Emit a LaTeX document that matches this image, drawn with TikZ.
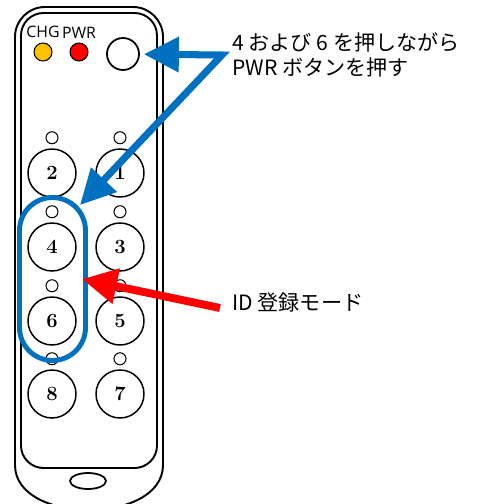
\documentclass[tikz,border=0pt]{standalone}
\usepackage{fontspec}
\newfontfamily\jpfont{Noto Sans CJK JP}
\newfontfamily\ledfont{Open Sans}
\usepackage{tikz}
\usetikzlibrary{positioning,arrows.meta}
\definecolor{markblue}{RGB}{0,112,192}
\definecolor{ledamber}{RGB}{255,192,0}

\begin{document}
\begin{tikzpicture}[x=0.02cm,y=-0.02cm,
		key/.style={circle,draw,line width=0.85pt,minimum size=0.96cm,inner sep=0pt,font=\bfseries\fontsize{11.5}{13}\selectfont},
		lamp/.style={circle,draw,line width=0.6pt,minimum size=0.24cm,inner sep=0pt},
		led/.style={circle,draw,line width=0.6pt,minimum size=0.36cm,inner sep=0pt},
		ledlabel/.style={inner sep=0pt,font=\ledfont\fontsize{9}{10}\selectfont},
		note/.style={anchor=west,align=left,inner sep=0pt,font=\jpfont\fontsize{12}{14.2}\selectfont},
		pointer/.style={line width=4pt,-{Triangle[length=0.7cm,width=0.68cm]}}]
		\clip (0,0) rectangle (480,504);

		% Remote body
		\draw[line width=1.1pt,rounded corners=0.6cm] (15,466) -- (15,7) -- (163,7) -- (163,466);
		\draw[line width=1.1pt] (163,465) .. controls (163,525) and (15,525) .. (15,465);
		\draw[line width=1.1pt,rounded corners=0.45cm] (21,13) rectangle (157,468);
		\draw[line width=1pt] (88,481) ellipse [x radius=18, y radius=8];

		% Status LEDs and PWR button
		\node[led,fill=ledamber] (chg) at (43,52) {};
		\node[led,fill=red] (pwrled) at (79,52) {};
		\node[ledlabel,above=0.08cm of chg] (chg-label) {CHG};
		\node[ledlabel,above=0.08cm of pwrled] (pwr-label) {PWR};
		\node[circle,draw,line width=1pt,minimum size=0.64cm] (pwr) at (123,54) {};

		% Keys
		\node[key] (k2) at (52,173) {2};
		\node[key] (k1) at (120,173) {1};
		\node[key] (k4) at (52,247) {4};
		\node[key] (k3) at (120,247) {3};
		\node[key] (k6) at (52,321) {6};
		\node[key] (k5) at (120,321) {5};
		\node[key] (k8) at (52,394) {8};
		\node[key] (k7) at (120,394) {7};
		\node[lamp,above=0.08cm of k2] (l2) {};
		\node[lamp,above=0.08cm of k1] (l1) {};
		\node[lamp,above=0.08cm of k4] (l4) {};
		\node[lamp,above=0.08cm of k3] (l3) {};
		\node[lamp,above=0.08cm of k6] (l6) {};
		\node[lamp,above=0.08cm of k5] (l5) {};
		\node[lamp,above=0.08cm of k8] (l8) {};
		\node[lamp,above=0.08cm of k7] (l7) {};

		% Keys 4 and 6 marked
		\node[draw=markblue,line width=2.8pt,rounded corners=0.66cm,minimum width=1.32cm,minimum height=3.26cm,inner sep=0pt] (hold) at (52.5,279) {};

		% Notes
		\node[note] (combo) at (232,55) {4 および 6 を押しながら\\PWR ボタンを押す};
		\node[note] (mode) at (232,302) {ID 登録モード};

		% Arrows
		\coordinate[left=0.2cm of combo] (fork);
		\coordinate (hold-tip) at ([xshift=0.55cm,yshift=-0.2cm]hold.north);
		\coordinate (mode-tail) at ([xshift=-0.24cm,yshift=-0.12cm]mode.west);
		\draw[markblue,line width=4pt,{Triangle[length=0.7cm,width=0.68cm]}-{Triangle[length=0.7cm,width=0.68cm]},shorten <=0.08cm] (pwr) -- (fork) -- (hold-tip);
		\draw[pointer,red,line width=4.5pt] (mode-tail) -- ([xshift=-0.12cm]hold.east);
	\end{tikzpicture}
\end{document}
